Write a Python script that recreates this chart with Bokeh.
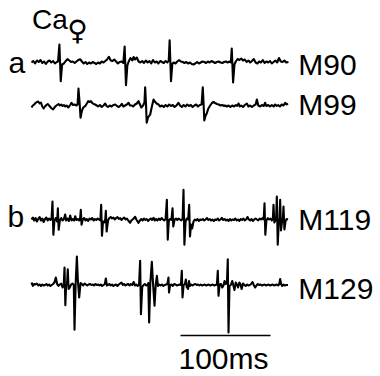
from bokeh.plotting import figure
from bokeh.models import Range1d
from bokeh.core.properties import value
from bokeh.embed import file_html
from bokeh.resources import INLINE

# ---- data: (time in ms, amplitude in a.u.) ----
m90 = [
(0,0),(2,1.5),(4,-1),(6,2),(8,0.5),(10,2.5),(12,-0.5),(14,1),(16,-1.5),(18,1),(20,2),(22,0),(24,1.5),(26,-1),(28,0.5),(29.5,1),
(31,18),(32.5,-18.7),(34,-2),(36,-1),(38,1.5),(40,3.3),(42,2),(44,0.5),(46,1),(48,-0.5),(50,1),(52,2.5),(54,3.3),(56,1),(58,-1),(60,0.5),(62,-1.5),(64,0),(66,-1),(68,0.5),(70,-0.5),(72,-1.5),(74,0),(76,-1),(78,1),(80,0),(82,1.5),(84,3),(86,5.7),(88,2),(90,1.5),(92,3),(94,1),(96,-1),(98,0.5),(100,1),(102,-0.5),
(103.5,16),(105,-22.7),(106.5,-3),(108,1),(110,4.5),(112,2),(113.5,5.5),(115,3),(117,5),(119,1),(121,0),(123,1.5),(125,-0.5),(127,2),(129,0),(131,1.5),(133,-1),(135,2.5),(137,0),(139,1),(141,-1),(143,1.5),(145,0.5),(147,-0.5),(149,1.5),(151,0),(152.5,2),
(153.5,22.3),(155,-18.7),(156.5,-1),(158,0),(160,-1),(162,1),(164,2.3),(166,1),(168,0.5),(170,-0.5),(172,0.5),(174,-1),(176,0),(178,-1.5),(180,-2),(182,-1),(184,0.5),(186,-1),(188,0),(190,1),(192,0.5),(194,-0.5),(196,1),(198,0),(200,1.5),(202,0.5),(204,-0.5),(206,0.5),(208,1),(210,0),(212,-0.5),(214,0.5),(216,1),(218,0),(220,1),(221.5,0),
(222.5,14),(224,-20),(225.5,-2),(227,1),(229,3.5),(231,2.5),(233,4),(235,2),(237,3),(239,0.5),(241,2),(243,0),(245,1.5),(247,3.5),(249,0),(251,-1),(253,1),(255,0),(257,2.5),(259,-0.5),(261,1),(263,0),(265,1.5),(267,-1),(269,0.5),(271,2),(273,0),(275,4.5),(277,1),(279,0.5),(281,2),(283,0),(285.5,0.5)]

m99 = [
(0,-2),(1.5,0),(3,1),(4.5,2.5),(6,3.5),(7.5,4),(9,2),(10.5,3),(12,-1),(13.5,-3),(15,-1),(16.5,0.5),(18,1.5),(19.5,0),(21,-1.5),(22.5,-3),(24,-4),(25.5,-2),(27,-0.5),(28.5,0.5),(30,1.5),(31.5,0),(33,1),(34.5,-0.5),(36,0.5),(37.5,-1),(39,0),(41,-2),(43,0.5),(44.5,2.7),(46,0.5),(48,1),(50,0),(51.2,1),
(52.2,17),(53.5,2),(54.5,-12.3),(55.9,-5.7),(57.5,-2),(59.6,-0.7),(61.5,2),(63,4.3),(64.5,3.5),(66,4.3),(67.5,2.5),(69,1.5),(70.7,1),(72.5,0),(74,-1),(76,0.5),(78,-1.5),(80,0),(81.9,2),(83.5,-0.5),(85,-1.5),(87,0),(89,-1),(91,0.5),(93,1),(95,-0.5),(97,-1.5),(99,0),(100.4,1.7),(102,-1),(104,0),(106,1),(107.8,2.7),(109.5,0),(111.5,0),(113,-1),(115,1),(117,2),(118.9,4.3),(120.5,1),(122,-2),(124,0),(125.5,3),
(126.3,18.3),(127.2,2),(128,-17.3),(129.5,-12),(131.9,-9),(133.5,-2),(135.6,6),(137,4),(139,2),(141.1,1),(143,-1),(145,0),(147,-1.5),(149,0.5),(151,-1),(153,1),(155,-0.5),(157,0.5),(159,-1.5),(161,0),(163.3,2.7),(165,0),(167,-1.5),(169,0.5),(171,-1),(173,1),(175,-0.5),(177,0.5),(179,-1.5),(181,0),(183,1),(185,-1),(187,0.5),(189,1),
(190.3,18.3),(191.2,2),(192,-15),(193.5,-10),(194.8,-7.7),(196.5,-3),(198.5,0),(200.5,2.5),(202.2,3.5),(204,2.5),(206,1.5),(208,1),(210,0),(212,0.5),(214,-0.5),(215.2,0),(217,-1),(219,0),(221,-1.5),(223,0),(225,-1),(227,0.5),(228.5,-0.5),(230,2),(231.5,-1),(233,0),(235,-1.5),(237,0.5),(239.3,2),(241,-1),(243,0),(245,-1.5),(247,0),(249,1),(250.4,6),(252,0),(254,-1),(256,0.5),(258,-0.5),(259.6,2.7),(261,-0.5),(263,0.5),(265,-1),(267,0.5),(269,-1),(270.7,1),(272.5,-0.5),(274,0.5),(276,-1),(278,1),(280,0),(281.9,2.7),(283.5,1),(285,2)]

m119 = [
(0,0),(1.5,2),(3,-1),(4.5,1.5),(6,-2),(7.5,0.5),(9,2.5),(10.5,-1),(12,1),(13.5,-2.5),(15,0.5),(16.5,2),(18,-1),(19.5,1),(21,-0.5),(22.3,1),
(23.3,18),(24.3,-15.3),(25.5,-1),(27,1.5),(28.5,-2),(29.3,11.3),(30.2,-10.3),(31.5,-1),(33,1.5),(34.5,-1),(36,0.5),(37.4,5),(38.5,-1),(40,1),(41.5,-1.5),(43,4),(44.5,-1),(46,0.5),(47.5,-1),(48.5,3.3),(50,-0.5),(51.5,0.5),(53,-1),(54,1),
(54.8,9.7),(55.6,-5.3),(57,0),(58.5,1.5),(60,-1),(61.5,0.5),(63,-1.5),(64.5,1),(66,0),(67.5,1.5),(69,-1),(70.5,0.5),(72,-0.5),(73.5,1),(75,0),(76.5,-1),
(77.4,14.7),(78.3,-16.3),(79.5,-2),(81,-3),(82,0.5),(82.6,8.7),(83.5,-12),(85,-1),(86.5,1.5),(88,2.5),(89.5,1),(91,2),(92.5,0),(94,1.5),(95.5,2.5),(97,0.5),(98.5,1.5),(100,-0.5),(101.5,1),(103,2),(104.5,0),(106,1),(107.5,-1),(109.6,-3.3),(111,-1),(113,0.5),(115.2,2.7),(116.5,0),(118.9,-3.3),(120.5,-1),(122,0.5),(123.5,-1),(125,1),(126.5,-0.5),(128,0.5),(129.5,-1.5),(131,0),(132.5,1),(134,-0.5),(135.6,1.7),(137,-1),(138.5,0.5),(140,-1),(141.5,1),(143,-0.5),(144.5,1.5),(146,0),(147.5,-1),(149,0.5),
(150.4,19.7),(151.4,-20.3),(152.6,-1),(154,0.5),(155.5,-0.5),(156.7,11.3),(157.5,-7),(159,0),(160.5,1),(162,-0.5),(163.5,1),(165,0),(166.5,-1),(167.9,1),
(168.9,29.7),(169.9,-25.3),(171.2,-2),(172.5,1),(174,0),(175.2,14.7),(176.1,-17),(177.3,-5),(178.5,-9),(180,-2),(181.5,0),(183,-1),(184.5,0.5),(186,-1.5),(187.5,0),(189,-0.5),(190.5,0.5),(192,-1),(193.5,0),(195,1.5),(196.5,-0.5),(198,0.5),(199.5,-1),(201,0),(202.5,-1.5),(204,0),(205.5,-0.5),(207,1),(208.5,-1),(210,0),(211.5,1.7),(213,-0.5),(214.5,0.5),(216,-1),(217.5,0),(219,-1.5),(220.5,0.5),(222,-1),(223.5,0),(225,-0.5),(226.5,1),(228,-1),(229.5,0),(231,-1.5),(232.5,0.5),(234,-0.5),(235.5,1),(237,-1),(238.5,0),(240,2.5),(241.5,0),(243,-1),(244.5,0.5),(246,-1.5),(247.5,0),(249,1),(250.5,0),(252,-1),(253.5,1),(255,0),(256.5,1.3),(258,0),
(258.9,16.3),(259.8,-15.3),(261,-1),(262.5,1.3),(264,0),(265.5,1),(267,-1),(268.2,1),(268.9,14.7),(269.8,-3),(271,-1),(271.8,1),
(272.6,23),(273.6,-25.3),(274.8,-2),(275.6,1),(276.3,19.7),(277.2,-11),(278.5,-1),(279.3,1),(280,13),(281,-10),(282.3,-1.5),(283.5,0.5),(285,0)]

m129 = [
(0,2.5),(1.5,-0.8),(3,1),(4.5,0.5),(6,1.5),(7.5,-0.5),(9,0.5),(10.5,-1),(12,0.5),(13.5,-0.5),(15,0),(16.5,1),(18,-0.5),(19.5,0.5),(21,-1),(22.5,0),(24,1),(25.5,2.5),(27,7.5),(28.5,1),(30,-0.8),(31.5,0.5),(33,1.5),(34.5,-2.5),(35.8,0),
(36.7,17.5),(37.6,-20.2),(38.5,0),(39.5,1),(40.3,15.8),(41.2,-4),(42.5,-2.5),(44,0.5),(45.5,1.5),(47,0),
(47.8,-44.8),(49,0),(50.4,28.5),(51.5,5),(53,-12.5),(54.5,2),(56,1),(57.5,-0.5),(59,1.5),(60.5,0.5),(62,-0.5),(63.5,0.5),(65,1),(66.5,0),(68,0.5),(69.5,-0.5),(71,1),(72.5,0),(74,0.5),(75.5,-0.5),(77,0.5),(78.5,-1),(80,0),(81.5,1),(82.6,6.5),(83.8,-0.5),(85,0),(86.5,1),(88,-0.5),(89.5,0.5),(91,-1),(92.5,0),(94,0.5),(95.5,-1),(97,0.5),(98.5,1.5),(100,2.5),(101.5,0),(103,1),(104.5,-0.5),(106,0.5),(107.5,1),(109,-0.5),(110.5,1),(112,0),(113.5,3),(115,-0.5),(116.5,0.5),(118,-1),(119.5,0),
(120.7,24.2),(121.6,-29.2),(123,-2),(124.5,0),(126,1),(127.5,-0.5),(129,0),(129.8,2),
(130.7,-37.5),(132,2),(133.7,23.2),(135,2),(136.7,-20.8),(138,0),(139.3,9.2),(140.5,-1),(142,0.5),(143.5,-0.5),(145,0.5),(146.5,-1),(148,0),(149.5,0.5),(151,1),(152.2,7.5),(152.8,-7.5),(154,0),(155.5,0.5),(157,-1),(158.5,1),(160,0.5),(161.5,-0.5),(163,0),(164.5,0.5),(166,0),
(167,14.2),(167.8,-12.5),(169,0),(170.5,1),(171.5,5.5),(172.5,-2),(174,-4),(175,4),(176,-1),(177.5,0.5),(179,-0.5),(180.5,0.5),(182,1),(183.5,0),(185,0.5),(186.5,-0.5),(188,0.5),(189.5,-0.5),(191,0),(192.5,0.5),(194,-0.5),(195.5,0),(197,0.5),(198.5,-0.5),(200,0),(201.5,0.5),(203,-0.5),(204.5,0),(206,0.5),
(207,14.2),(207.8,-10.8),(209,0.5),(210.5,1),(212,-2.5),(213.5,0),(214.5,4),(216,1),(217.2,3),
(218.1,25.8),(218.9,-47.5),(220,-1),(221.5,0),(223,4),(224.5,-1),(225.5,-5),(227,2.5),(228.5,0),(229.5,-2.5),(231,2.5),(232.5,0),(233.5,-4),(235,1.5),(236.5,0),(238,-1),(239.5,0.5),(241,-0.5),(242.5,0),(244,1),(245.5,3),(247,0),(248.5,-2.5),(250,-0.5),(251.5,1),(253,0),(254.5,0.5),(256,-0.5),(257.5,0),(259,0.5),(260.5,-0.5),(262,0),(263.5,0.5),(265,-0.5),(266.5,0),(268,0.5),(269.5,-0.5),(271,0),(272.5,0.5),(274,-0.5),(275.3,1),(276.3,6),(277.3,1),(278.5,-1),(280,0.5),(281.5,-0.5),(283,0),(285,0)]

trace_data = [m90, m99, m119, m129]
trace_names = ["M90", "M99", "M119", "M129"]
panel_letters = ["a", "b"]
title_text = "Ca"
female_sign = "\u2640"
scale_label = "100ms"
scale_length_ms = 100

# ---- layout (positions, not data) ----
trace_offsets = [-62, -105, -219, -284.5]
name_x = 296.5
name_y = [-63.7, -104, -219, -288]
letter_x = [-25.6, -26.7]
letter_y = [-62, -216]
scale_start = 165.6
scale_y = -335

p = figure(width=380, height=376,
           x_range=Range1d(-34.444, 387.778), y_range=Range1d(-376, 0),
           x_axis_type=None, y_axis_type=None,
           toolbar_location=None, output_backend="svg", min_border=0)
p.outline_line_color = None
p.background_fill_color = "white"
p.border_fill_color = "white"

for data, off in zip(trace_data, trace_offsets):
    t = [d[0] for d in data]
    v = [off + d[1] for d in data]
    p.line(t, v, line_color="black", line_width=2.1, line_join="round")

font = value("Liberation Sans")
p.text(x=[name_x] * 4, y=name_y, text=trace_names, text_font=font,
       text_font_size="30px", text_baseline="middle", text_align="left", text_color="black")
p.text(x=letter_x, y=letter_y, text=panel_letters, text_font=font,
       text_font_size="30px", text_baseline="middle", text_align="left", text_color="black")
p.text(x=[0.5], y=[-18.5], text=[title_text], text_font=font,
       text_font_size="28px", text_baseline="middle", text_align="left", text_color="black")
p.text(x=[51.1], y=[-29.5], text=[female_sign], text_font=value("DejaVu Sans"),
       text_font_size="28px", text_baseline="middle", text_align="center", text_color="black")

p.line([scale_start, scale_start + scale_length_ms], [scale_y, scale_y], line_color="black", line_width=1.6)
p.text(x=[163.3], y=[-357.5], text=[scale_label], text_font=font,
       text_font_size="30px", text_baseline="middle", text_align="left", text_color="black")

open("out.html", "w").write(file_html(p, INLINE))
